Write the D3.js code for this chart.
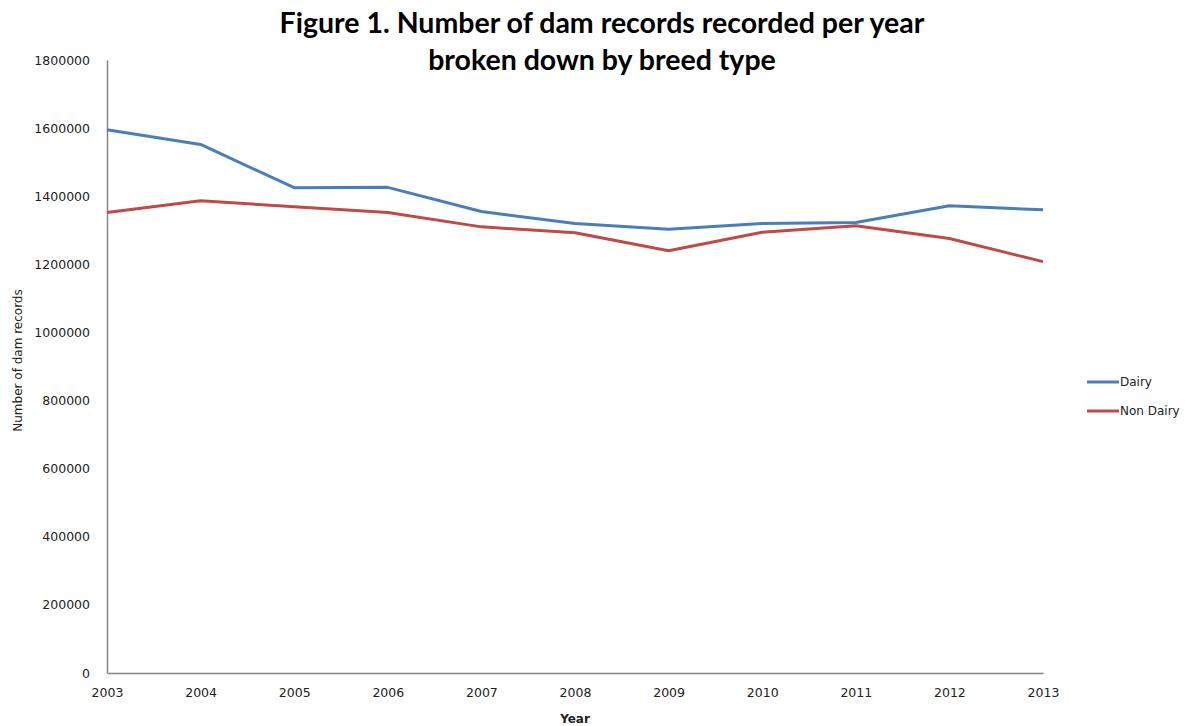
<!DOCTYPE html>
<html>
<head>
<meta charset="utf-8">
<script src="https://cdn.jsdelivr.net/npm/d3@7"></script>
<style>
  body { margin: 0; background: #fff; }
  svg { display: block; }
  .axis path, .axis line { stroke: #868686; }
  .axis text { font-family: "DejaVu Sans", sans-serif; font-size: 12.5px; fill: #222; }
</style>
</head>
<body>
<svg></svg>
<script>
// data
var years = [2003, 2004, 2005, 2006, 2007, 2008, 2009, 2010, 2011, 2012, 2013];
var dairy = [1595000, 1552000, 1425000, 1426000, 1355000, 1320000, 1303000, 1320000, 1323000, 1372000, 1360000];
var nonDairy = [1352000, 1387000, 1369000, 1352000, 1310000, 1293000, 1240000, 1294000, 1313000, 1276000, 1208000];
var yTicks = [0, 200000, 400000, 600000, 800000, 1000000, 1200000, 1400000, 1600000, 1800000];
var seriesNames = ["Dairy", "Non Dairy"];
var seriesColors = ["#4a7ebb", "#be4b48"];

var W = 1196, H = 726,
    margin = {top: 60, right: 153, bottom: 53, left: 107},
    width = W - margin.left - margin.right,
    height = H - margin.top - margin.bottom;

var svg = d3.select("svg").attr("width", W).attr("height", H);
var g = svg.append("g")
    .attr("transform", "translate(" + margin.left + "," + margin.top + ")");

// scales
var xScale = d3.scaleLinear().domain([2003, 2013]).range([0, width]);
var yScale = d3.scaleLinear().domain([0, 1800000]).range([height, 0]);

// x-axis
g.append("g")
    .attr("class", "x axis")
    .attr("transform", "translate(0," + height + ")")
    .call(d3.axisBottom(xScale).tickValues(years).tickFormat(d3.format("d")).tickSize(0).tickPadding(15))
    .call(function(a) { a.select(".domain").attr("stroke-width", 1.5); });

// y-axis
g.append("g")
    .attr("class", "y axis")
    .call(d3.axisLeft(yScale).tickValues(yTicks).tickFormat(d3.format("d")).tickSize(0).tickPadding(17))
    .call(function(a) { a.select(".domain").attr("stroke-width", 1.5); });

// axis titles
svg.append("text")
    .attr("x", margin.left + width / 2)
    .attr("y", 723)
    .attr("text-anchor", "middle")
    .style("font-family", "DejaVu Sans, sans-serif")
    .style("font-size", "12px")
    .style("font-weight", "bold")
    .attr("fill", "#222")
    .text("Year");

svg.append("text")
    .attr("transform", "translate(22," + (margin.top + height / 2 - 6) + ") rotate(-90)")
    .attr("text-anchor", "middle")
    .style("font-family", "DejaVu Sans, sans-serif")
    .style("font-size", "12px")
    .attr("fill", "#222")
    .text("Number of dam records");

// title
var title = svg.append("text")
    .attr("text-anchor", "middle")
    .style("font-family", "Lato, sans-serif")
    .style("font-size", "28.5px")
    .style("font-weight", "bold")
    .attr("fill", "#000");
title.append("tspan").attr("x", 602).attr("y", 33).text("Figure 1. Number of dam records recorded per year");
title.append("tspan").attr("x", 602).attr("y", 70).text("broken down by breed type");

// lines
var line = d3.line()
    .x(function(d, i) { return xScale(years[i]); })
    .y(function(d) { return yScale(d); });

[dairy, nonDairy].forEach(function(vals, k) {
  g.append("path")
      .datum(vals)
      .attr("fill", "none")
      .attr("stroke", seriesColors[k])
      .attr("stroke-width", 3)
      .attr("stroke-linejoin", "round")
      .attr("d", line);
});

// legend
var legend = svg.append("g").attr("transform", "translate(1087,382)");
seriesNames.forEach(function(name, k) {
  var row = legend.append("g").attr("transform", "translate(0," + (k * 29) + ")");
  row.append("line")
      .attr("x1", 0).attr("x2", 32)
      .attr("stroke", seriesColors[k])
      .attr("stroke-width", 3);
  row.append("text")
      .attr("x", 33).attr("dy", "0.35em")
      .style("font-family", "DejaVu Sans, sans-serif")
      .style("font-size", "12px")
      .attr("fill", "#222")
      .text(name);
});
</script>
</body>
</html>
